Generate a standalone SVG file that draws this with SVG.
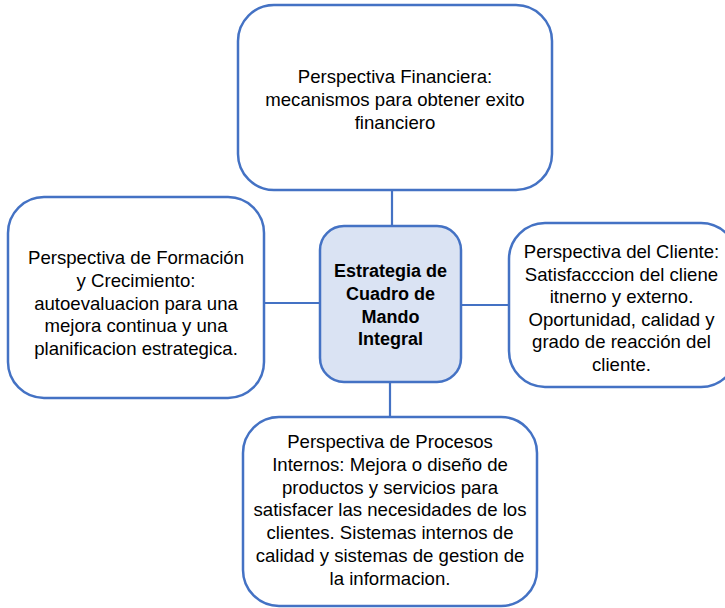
<svg xmlns="http://www.w3.org/2000/svg" width="725" height="608" viewBox="0 0 725 608">
<style>
.box{fill:#ffffff;stroke:#4472c4;stroke-width:2.5}
.core{fill:#dae3f3;stroke:#4472c4;stroke-width:2.5}
.lbl{font-family:"Liberation Sans",Arial,sans-serif;font-size:18.6px;fill:#000;text-anchor:middle}
.bold{font-weight:bold;font-size:18px}
.link{stroke:#4472c4;stroke-width:2.2;fill:none}
</style>
<rect width="725" height="608" fill="#ffffff"/>
<g id="connectors">
<line class="link" x1="392" y1="190" x2="392" y2="226"/>
<line class="link" x1="390" y1="382" x2="390" y2="417"/>
<line class="link" x1="264" y1="303" x2="320" y2="303"/>
<line class="link" x1="461" y1="305" x2="509" y2="305"/>
</g>
<g id="financiera">
<rect class="box" x="238" y="5" width="314" height="185" rx="36"/>
<text class="lbl" x="395" y="83">Perspectiva Financiera:</text>
<text class="lbl" x="395" y="105.8">mecanismos para obtener exito</text>
<text class="lbl" x="395" y="128.6">financiero</text>
</g>
<g id="formacion">
<rect class="box" x="8" y="197" width="256" height="201" rx="36"/>
<text class="lbl" x="136" y="264">Perspectiva de Formación</text>
<text class="lbl" x="136" y="286.8">y Crecimiento:</text>
<text class="lbl" x="136" y="309.6">autoevaluacion para una</text>
<text class="lbl" x="136" y="332.4">mejora continua y una</text>
<text class="lbl" x="136" y="355.2">planificacion estrategica.</text>
</g>
<g id="estrategia">
<rect class="core" x="320" y="226" width="141" height="156" rx="24"/>
<text class="lbl bold" x="390.5" y="277">Estrategia de</text>
<text class="lbl bold" x="390.5" y="299.8">Cuadro de</text>
<text class="lbl bold" x="390.5" y="322.6">Mando</text>
<text class="lbl bold" x="390.5" y="345.4">Integral</text>
</g>
<g id="cliente">
<rect class="box" x="509" y="223" width="228" height="164" rx="36"/>
<text class="lbl" x="621.5" y="258">Perspectiva del Cliente:</text>
<text class="lbl" x="621.5" y="280.6">Satisfacccion del cliene</text>
<text class="lbl" x="621.5" y="303.2">itnerno y externo.</text>
<text class="lbl" x="621.5" y="325.8">Oportunidad, calidad y</text>
<text class="lbl" x="621.5" y="348.4">grado de reacción del</text>
<text class="lbl" x="621.5" y="371">cliente.</text>
</g>
<g id="procesos">
<rect class="box" x="243" y="417" width="294" height="189" rx="36"/>
<text class="lbl" x="390" y="448">Perspectiva de Procesos</text>
<text class="lbl" x="390" y="470.8">Internos: Mejora o diseño de</text>
<text class="lbl" x="390" y="493.6">productos y servicios para</text>
<text class="lbl" x="390" y="516.4">satisfacer las necesidades de los</text>
<text class="lbl" x="390" y="539.2">clientes. Sistemas internos de</text>
<text class="lbl" x="390" y="562">calidad y sistemas de gestion de</text>
<text class="lbl" x="390" y="584.8">la informacion.</text>
</g>
</svg>
